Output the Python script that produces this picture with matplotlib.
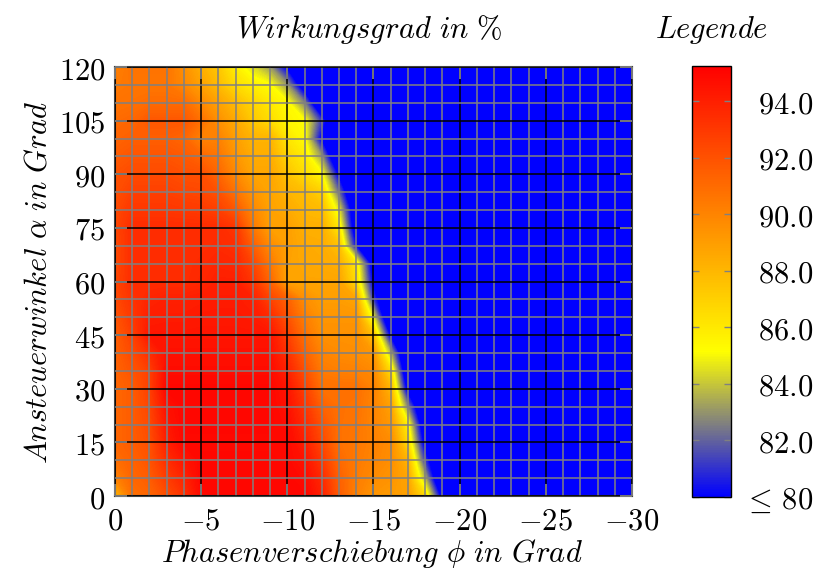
import numpy as np
import matplotlib
matplotlib.use('Agg')
import matplotlib.pyplot as plt
from matplotlib.colors import LinearSegmentedColormap, Normalize
from matplotlib.ticker import MultipleLocator, FuncFormatter

plt.rcParams['mathtext.fontset'] = 'cm'
plt.rcParams['font.family'] = 'serif'

# phase shift (deg) and control angle (deg) of the measurement grid
phase = np.arange(0, -31, -1)
alpha = np.arange(0, 121, 5)

# efficiency in %, one row per control angle, starting at phase 0;
# everything right of the listed values is in the "<= 80" region
BELOW = 76.0
eff_rows = [
    [87.8, 90.8, 91.2, 92.1, 93.2, 94.9, 95.0, 95.0, 95.0, 95.0, 95.0, 95.0, 94.0, 91.6, 90.1, 89.3, 89.1, 88.9, 86.5, 79.0],  # 0
    [90.0, 91.2, 91.6, 92.8, 93.8, 95.0, 95.0, 95.0, 95.0, 95.0, 95.0, 94.8, 93.6, 91.4, 90.3, 89.7, 89.4, 88.6, 83.5],        # 5
    [90.8, 91.4, 91.9, 93.4, 94.4, 95.0, 95.0, 95.0, 95.0, 95.0, 94.9, 94.5, 93.0, 91.1, 90.4, 90.0, 89.6, 88.0, 81.0],        # 10
    [91.2, 91.6, 92.1, 94.0, 94.9, 94.9, 94.9, 94.9, 94.9, 94.9, 94.9, 94.0, 92.4, 90.8, 90.5, 90.1, 89.7, 86.5, 79.0],        # 15
    [91.2, 91.6, 92.3, 94.3, 95.0, 95.0, 95.0, 95.0, 95.0, 95.0, 94.8, 93.6, 92.0, 90.8, 90.6, 90.0, 89.2, 85.5, 77.5],        # 20
    [91.2, 91.6, 92.5, 94.6, 95.0, 95.0, 95.0, 95.0, 95.0, 95.0, 94.6, 93.2, 91.4, 90.8, 90.7, 90.0, 88.8, 82.5],              # 25
    [91.2, 91.6, 92.7, 95.0, 95.0, 95.0, 95.0, 95.0, 95.0, 95.0, 94.4, 92.7, 90.8, 90.8, 90.8, 90.1, 88.0, 79.0],              # 30
    [91.3, 91.9, 92.7, 94.8, 94.8, 94.8, 94.8, 94.8, 94.8, 94.8, 93.9, 92.1, 90.4, 90.2, 90.1, 89.8, 86.5, 77.0],              # 35
    [91.4, 92.3, 93.4, 94.6, 94.6, 94.6, 94.6, 94.6, 94.6, 94.6, 93.3, 91.4, 90.0, 89.7, 89.6, 89.2, 83.5],                    # 40
    [91.5, 92.7, 94.4, 94.4, 94.4, 94.4, 94.4, 94.4, 94.4, 94.4, 92.7, 90.8, 89.5, 89.5, 89.5, 87.5, 79.5],                    # 45
    [91.9, 93.0, 94.1, 94.2, 94.2, 94.3, 94.3, 94.3, 94.2, 93.6, 92.0, 90.2, 89.3, 89.3, 89.3, 84.5],                          # 50
    [92.3, 93.2, 93.8, 94.0, 94.0, 94.1, 94.2, 94.2, 94.0, 92.6, 91.4, 89.6, 89.0, 89.0, 88.7, 81.0],                          # 55
    [92.4, 93.5, 93.5, 93.5, 93.5, 93.7, 94.0, 94.0, 93.1, 91.2, 88.7, 88.7, 88.7, 88.7, 86.5, 79.5],                          # 60
    [92.3, 93.5, 93.5, 93.5, 93.5, 93.6, 93.8, 93.7, 92.5, 90.5, 88.8, 88.6, 88.5, 88.3, 86.0, 78.5],                          # 65
    [92.3, 93.5, 93.5, 93.5, 93.5, 93.5, 93.6, 93.4, 91.5, 89.7, 88.9, 88.5, 88.4, 87.5, 80.0],                                # 70
    [92.4, 93.5, 93.5, 93.5, 93.5, 93.5, 93.5, 93.1, 90.5, 88.9, 88.9, 88.3, 88.3, 86.0, 78.0],                                # 75
    [92.3, 93.1, 93.1, 93.1, 93.0, 92.9, 92.7, 91.8, 89.9, 88.8, 88.5, 88.0, 87.8, 84.5, 77.5],                                # 80
    [92.1, 92.7, 92.7, 92.7, 92.5, 92.4, 92.0, 90.7, 89.3, 88.7, 88.1, 87.7, 87.0, 82.0],                                      # 85
    [92.0, 92.3, 92.3, 92.3, 92.1, 92.1, 91.2, 89.8, 88.7, 88.7, 87.5, 86.5, 85.3, 79.5],                                      # 90
    [91.6, 91.9, 91.9, 91.9, 91.7, 91.2, 90.6, 89.3, 88.4, 88.4, 86.8, 85.9, 83.0],                                            # 95
    [91.3, 91.5, 91.5, 91.5, 91.2, 90.1, 90.1, 88.9, 88.1, 88.1, 86.1, 85.3, 79.5],                                            # 100
    [91.0, 91.2, 91.8, 91.8, 91.8, 90.8, 89.5, 88.5, 87.3, 86.5, 85.5, 85.2, 81.0],                                            # 105
    [90.7, 90.8, 91.0, 91.0, 91.0, 89.8, 88.8, 87.8, 86.8, 86.0, 85.3, 82.5],                                                  # 110
    [90.4, 90.6, 90.6, 90.6, 89.8, 88.8, 87.8, 86.5, 85.7, 85.2, 83.0, 78.0],                                                  # 115
    [90.1, 90.7, 90.7, 90.7, 89.5, 88.3, 87.3, 85.7, 84.4, 83.0, 79.5],                                                        # 120
]

cbar_ticks = [80, 82, 84, 86, 88, 90, 92, 94]
cbar_labels = [r'$\leq\,80$', '$82.0$', '$84.0$', '$86.0$', '$88.0$', '$90.0$', '$92.0$', '$94.0$']
VMIN, VMAX = 80.0, 95.25
FS = 22

Z = np.full((len(alpha), len(phase)), BELOW)
for i, row in enumerate(eff_rows):
    Z[i, :len(row)] = row

cmap = LinearSegmentedColormap.from_list(
    'eff', [(0.0, (0, 0, 1)), (0.337, (1, 1, 0)), (1.0, (1, 0, 0))])
cmap.set_under((0, 0, 1))

fig = plt.figure(figsize=(8.18, 5.83), dpi=100)
ax = fig.add_axes([0.1406, 0.1492, 0.6320, 0.7358])
cax = fig.add_axes([0.846, 0.1475, 0.0477, 0.7393])

levels = np.linspace(VMIN, VMAX, 154)
ax.contourf(phase, alpha, Z, levels=levels, cmap=cmap, extend='min',
            antialiased=False, zorder=1)

ax.set_xlim(0, -30)
ax.set_ylim(0, 120)
ax.xaxis.set_major_locator(MultipleLocator(5))
ax.xaxis.set_minor_locator(MultipleLocator(1))
ax.yaxis.set_major_locator(MultipleLocator(15))
ax.yaxis.set_minor_locator(MultipleLocator(5))
fmt = FuncFormatter(lambda v, p: f'${v:g}$')
ax.xaxis.set_major_formatter(fmt)
ax.yaxis.set_major_formatter(fmt)

ax.set_axisbelow(False)
ax.grid(which='minor', color='#808080', lw=1.1)
ax.grid(which='major', color='black', lw=1.1)
ax.tick_params(which='major', direction='in', length=8.6, width=1.3,
               color='#808080', top=True, right=True, labelsize=FS, pad=7)
ax.tick_params(which='minor', length=0)
for sp in ax.spines.values():
    sp.set_color('#404040')
    sp.set_linewidth(1.5)

# colour legend
sm = plt.cm.ScalarMappable(norm=Normalize(VMIN, VMAX), cmap=cmap)
cb = fig.colorbar(sm, cax=cax)
cb.set_ticks(cbar_ticks)
cb.set_ticklabels(cbar_labels)
cb.outline.set_edgecolor('black')
cb.outline.set_linewidth(1.0)
cax.tick_params(direction='in', length=5, width=1.0, color='#808080',
                left=True, right=True, labelleft=False, labelright=True,
                labelsize=FS, pad=59)
for lab in cax.get_yticklabels():
    lab.set_horizontalalignment('right')

fig.text(0.451, 0.949, r'$Wirkungsgrad\ in\ \%$', fontsize=FS, ha='center', va='center')
fig.text(0.870, 0.949, r'$Legende$', fontsize=FS, ha='center', va='center')
fig.text(0.455, 0.050, r'$Phasenverschiebung\ \phi\ in\ Grad$', fontsize=FS,
         ha='center', va='center')
fig.text(0.046, 0.516, r'$Ansteuerwinkel\ \alpha\ in\ Grad$', fontsize=FS,
         ha='center', va='center', rotation=90)

fig.savefig('out.png', dpi=100)
